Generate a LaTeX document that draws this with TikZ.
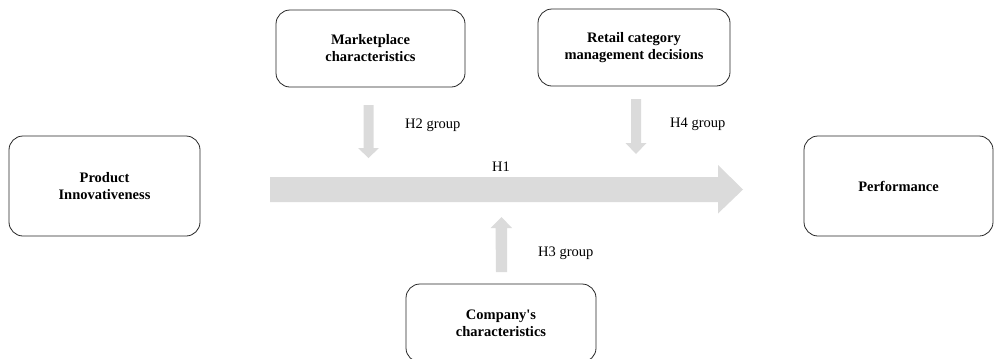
\documentclass[tikz,border=0pt]{standalone}
\usepackage{fontspec}
\setmainfont{Liberation Serif}
\begin{document}
\begin{tikzpicture}[x=1bp,y=-1bp,
  concept/.style={draw=black!85, line width=0.8bp, rounded corners=14bp,
    align=center, font=\fontsize{14.5bp}{17bp}\selectfont\bfseries, inner sep=0pt},
  flow/.style={fill=black!14, draw=none},
  hlabel/.style={font=\fontsize{14.5bp}{17bp}\selectfont, inner sep=0pt, anchor=west}]
\useasboundingbox (0,0) rectangle (995,358);
\clip (0,0) rectangle (995,358);

% Constructs
\node[concept, minimum width=191bp, minimum height=100bp] (prod) at (104.5,186) {Product\\Innovativeness};
\node[concept, minimum width=189bp, minimum height=100bp] (perf) at (898.5,186) {Performance};
\node[concept, minimum width=189bp, minimum height=77bp] (market) at (370.5,48.5) {Marketplace\\characteristics};
\node[concept, minimum width=192bp, minimum height=77bp] (retail) at (634,47.5) {Retail category\\management decisions};
\node[concept, minimum width=190bp, minimum height=78bp] (company) at (501,323) {Company\textquotesingle s\\characteristics};

% Main effect H1
\coordinate (h1s) at (270,189.5);
\coordinate (h1e) at (743,189.5);
\fill[flow] (h1s) ++(0,-12.5) -- ++(448,0) -- ++(0,-12) -- (h1e) -- ++(-25,24) -- ++(0,-11.5) -- ++(-448,0) -- cycle;
\node[font=\fontsize{14.5bp}{17bp}\selectfont, inner sep=0pt] (h1) at (501,167) {H1};

% Moderating groups
\coordinate (h2s) at (368.5,105);
\coordinate (h2e) at (368.5,158);
\fill[flow] (h2s) ++(-5,0) -- ++(10,0) -- ++(0,43) -- ++(5.5,0) -- (h2e) -- ++(-10.5,-10) -- ++(5.5,0) -- cycle;
\node[hlabel] (h2) at (405,125) {H2 group};

\coordinate (h4s) at (636,99);
\coordinate (h4e) at (636,154);
\fill[flow] (h4s) ++(-5,0) -- ++(10,0) -- ++(0,44) -- ++(5.5,0) -- (h4e) -- ++(-10.5,-11) -- ++(5.5,0) -- cycle;
\node[hlabel] (h4) at (670,124) {H4 group};

\coordinate (h3s) at (501.5,272);
\coordinate (h3e) at (501.5,217);
\fill[flow] (h3s) ++(-5.5,0) -- ++(11,0) -- ++(0,-44) -- ++(5,0) -- (h3e) -- ++(-11,11) -- ++(5,0) -- cycle;
\node[hlabel] (h3) at (538,253) {H3 group};
\end{tikzpicture}
\end{document}
